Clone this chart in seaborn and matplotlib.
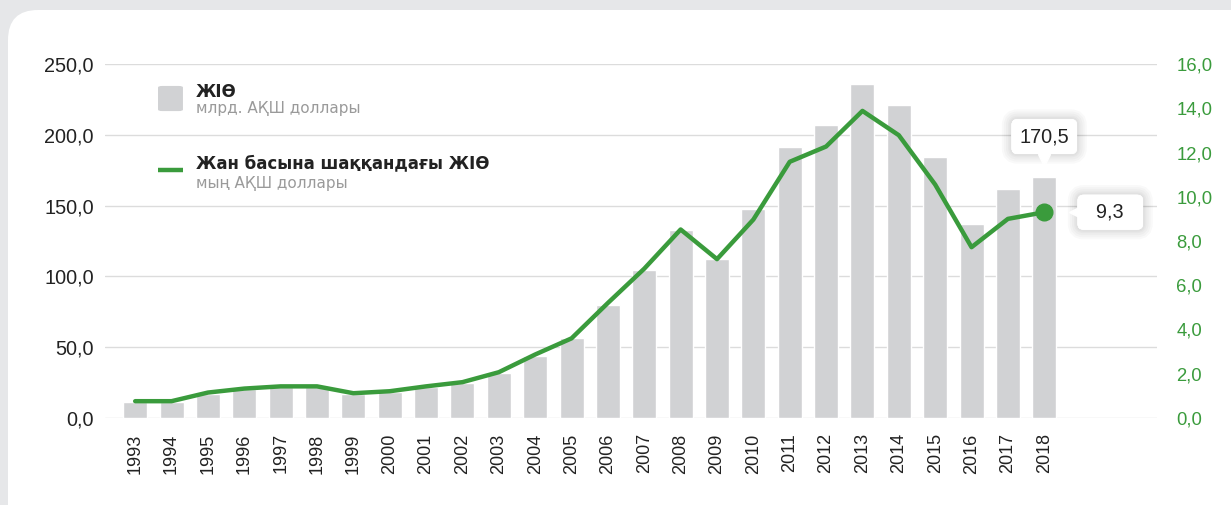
import numpy as np
import matplotlib
matplotlib.use("Agg")
import matplotlib.pyplot as plt
import matplotlib.patheffects as pe
import matplotlib.transforms as mtransforms
from matplotlib.patches import FancyBboxPatch
from matplotlib.lines import Line2D
import seaborn as sns

years = [str(y) for y in range(1993, 2019)]
gdp = [11.4, 11.5, 17.0, 20.5, 22.1, 22.1, 16.8, 18.6, 22.1, 25.0, 32.0, 44.0,
       56.3, 79.8, 104.5, 133.0, 112.3, 147.8, 191.6, 207.0, 235.8, 220.8,
       184.1, 137.0, 161.8, 170.5]
gdp_per_capita = [0.76, 0.76, 1.15, 1.33, 1.43, 1.43, 1.12, 1.21, 1.43, 1.62,
                  2.07, 2.87, 3.6, 5.2, 6.75, 8.52, 7.18, 8.97, 11.58, 12.27,
                  13.88, 12.78, 10.55, 7.72, 9.0, 9.3]
left_ticks = [0, 50, 100, 150, 200, 250]
right_ticks = [0, 2, 4, 6, 8, 10, 12, 14, 16]

bar_color = "#d1d2d4"
green = "#3a9b3c"
grid_color = "#dcdcdc"

sns.set_theme(style="white")
plt.rcParams["font.family"] = ["Liberation Sans", "DejaVu Sans"]
legend_font = ["DejaVu Sans"]

fig = plt.figure(figsize=(12.31, 5.05), dpi=100, facecolor="#e6e7e9")

# white rounded card behind everything
card = FancyBboxPatch((8, -40), 1260, 535, boxstyle="round,pad=0,rounding_size=30",
                      transform=mtransforms.IdentityTransform(), fc="white", ec="none",
                      zorder=-10)
fig.patches.append(card)

ax = fig.add_axes([105 / 1231, 87 / 505, 1052 / 1231, 354 / 505])
ax.patch.set_alpha(0)

sns.barplot(x=years, y=gdp, color=bar_color, width=0.66, saturation=1, ax=ax)
ax.set_xlim(-0.83, 28.1)
ax.set_ylim(0, 250)
ax.set_yticks(left_ticks)
ax.set_yticklabels([f"{v:.1f}".replace(".", ",") for v in left_ticks])
ax.yaxis.grid(True, color=grid_color, linewidth=1)
ax.set_axisbelow(True)
ax.tick_params(axis="y", length=0, pad=8, labelsize=14.3, labelcolor="#222222")
ax.tick_params(axis="x", length=0, pad=11, labelsize=13, labelcolor="#222222",
               labelrotation=90)
ax.set_xlabel("")
ax.set_ylabel("")
for s in ax.spines.values():
    s.set_visible(False)

ax2 = ax.twinx()
x_idx = np.arange(len(years))
sns.lineplot(x=x_idx, y=gdp_per_capita, color=green, linewidth=3.2, ax=ax2)
ax2.plot(x_idx[-1], gdp_per_capita[-1], "o", color=green, markersize=12, zorder=5)
ax2.set_ylim(0, 16)
ax2.set_yticks(right_ticks)
ax2.set_yticklabels([f"{v:.1f}".replace(".", ",") for v in right_ticks])
ax2.tick_params(axis="y", length=0, pad=14, labelsize=13.3, labelcolor=green)
ax2.set_ylabel("")
for s in ax2.spines.values():
    s.set_visible(False)


def shadow_effects():
    return [pe.withStroke(linewidth=w, foreground="black", alpha=0.025)
            for w in (14, 11, 8, 5, 3)] + [pe.Normal()]


# callout for the last bar
t1 = ax.annotate("170,5", xy=(len(years) - 1, gdp[-1]), xytext=(0, 40),
                 textcoords="offset pixels", ha="center", va="center", fontsize=14.3,
                 color="#222222", zorder=6,
                 bbox=dict(boxstyle="round,pad=0.4,rounding_size=0.3", fc="white", ec="none"))
t1.get_bbox_patch().set_path_effects(shadow_effects())
tip1 = mtransforms.offset_copy(ax.transData, fig=fig, x=0, y=17, units="dots")
ax.plot(len(years) - 1, gdp[-1], marker="v", color="white", markersize=9,
        transform=tip1, zorder=7, clip_on=False)

# callout for the last point of the line
t2 = ax2.annotate("  9,3  ", xy=(len(years) - 1, gdp_per_capita[-1]), xytext=(66, 0),
                  textcoords="offset pixels", ha="center", va="center", fontsize=14.3,
                  color="#222222", zorder=6,
                  bbox=dict(boxstyle="round,pad=0.4,rounding_size=0.3", fc="white", ec="none"))
t2.get_bbox_patch().set_path_effects(shadow_effects())
tip2 = mtransforms.offset_copy(ax2.transData, fig=fig, x=31, y=0, units="dots")
ax2.plot(len(years) - 1, gdp_per_capita[-1], marker="<", color="white", markersize=9,
         transform=tip2, zorder=7, clip_on=False)

# legend
ax.add_patch(FancyBboxPatch((0.0504, 0.867), 0.0237, 0.071, transform=ax.transAxes,
                            boxstyle="round,pad=0,rounding_size=0.004", fc=bar_color,
                            ec="none", clip_on=False))
ax.add_line(Line2D([0.0504, 0.0741], [0.7006, 0.7006], transform=ax.transAxes,
                   color=green, linewidth=3.2, solid_capstyle="butt"))
ax.text(0.0865, 0.92, "ЖІӨ", transform=ax.transAxes, fontsize=12,
        fontweight="bold", family=legend_font, color="#222222", va="center")
ax.text(0.0865, 0.873, "млрд. АҚШ доллары", transform=ax.transAxes, fontsize=11,
        family=legend_font, color="#9a9a9a", va="center")
ax.text(0.0865, 0.719, "Жан басына шаққандағы ЖІӨ", transform=ax.transAxes,
        fontsize=12, fontweight="bold", family=legend_font, color="#222222", va="center")
ax.text(0.0865, 0.662, "мың АҚШ доллары", transform=ax.transAxes, fontsize=11,
        family=legend_font, color="#9a9a9a", va="center")

fig.savefig("out.png", dpi=100, facecolor=fig.get_facecolor())
